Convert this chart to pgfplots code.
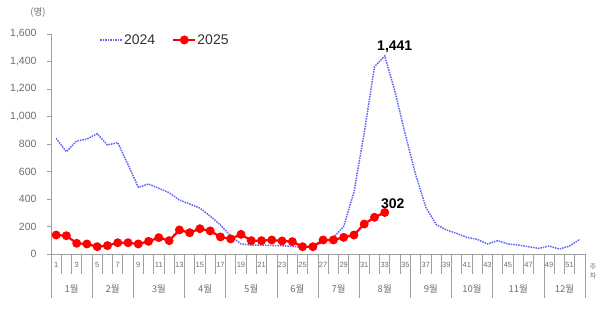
\documentclass[border=0pt]{standalone}
\usepackage{fontspec}
\setmainfont{Liberation Sans}
\newfontfamily\kr{Noto Sans CJK KR}
\usepackage{pgfplots}
\pgfplotsset{compat=1.18}
\definecolor{blue24}{RGB}{95,100,245}
\definecolor{red25}{RGB}{255,0,0}
\definecolor{axgray}{RGB}{160,160,160}
\definecolor{txtgray}{RGB}{110,110,110}
\begin{document}
\begin{tikzpicture}
\path[use as bounding box] (-51pt,-63pt) rectangle (549pt,254pt);
\begin{axis}[
  at={(0pt,0pt)}, anchor=south west,
  scale only axis, width=534pt, height=220pt,
  xmin=0.5, xmax=52.5, ymin=0, ymax=1600,
  axis lines=left, axis line style={-, draw=axgray, line width=0.8pt},
  major tick length=0pt,
  ytick={0,200,...,1600},
  yticklabel style={font=\fontsize{10.5}{12}\selectfont, text=txtgray, xshift=-11pt},
  /pgf/number format/assume math mode=true,
  /pgf/number format/1000 sep={,},
  xtick={1,3,...,51},
  xticklabel style={font=\fontsize{7.5}{9}\selectfont, text=txtgray, yshift=-5pt},
  clip=false,
  legend columns=2,
  legend style={at={(0.085,0.973)}, anchor=west, draw=none, fill=none,
    font=\fontsize{14}{16}\selectfont, text=black!80,
    /tikz/every even column/.append style={column sep=16pt},
    nodes={inner sep=1pt}},
  legend image code/.code={\draw[mark repeat=2, mark phase=2, #1] plot coordinates {(0pt,0pt) (11pt,0pt) (22pt,0pt)};},
]
\addplot[blue24, densely dotted, line width=1.5pt] coordinates {
(1,841) (2,744) (3,822) (4,836) (5,875) (6,793) (7,810) (8,650) (9,485) (10,509)
(11,478) (12,446) (13,393) (14,364) (15,334) (16,276) (17,211) (18,131) (19,73) (20,65)
(21,65) (22,62) (23,60) (24,55) (25,50) (26,55) (27,85) (28,120) (29,200) (30,450)
(31,880) (32,1362) (33,1441) (34,1180) (35,870) (36,580) (37,340) (38,215) (39,175) (40,150)
(41,121) (42,107) (43,73) (44,97) (45,73) (46,65) (47,53) (48,41) (49,58) (50,36)
(51,58) (52,107)
};
\addlegendentry{2024}
\addplot[red25, line width=2.2pt, mark=*, mark size=3.3pt, mark options={fill=red25, draw=red25}] coordinates {
(1,138) (2,133) (3,78) (4,73) (5,53) (6,61) (7,82) (8,82) (9,73) (10,92)
(11,119) (12,97) (13,175) (14,155) (15,184) (16,168) (17,124) (18,110) (19,143) (20,97)
(21,97) (22,102) (23,95) (24,90) (25,53) (26,53) (27,102) (28,102) (29,121) (30,138)
(31,218) (32,267) (33,302)
};
\addlegendentry{2025}
% axis ticks and week / month separators
\pgfplotsinvokeforeach{0,200,...,1600}{
  \draw[axgray, line width=0.8pt] (axis cs:0.5,#1) -- ++(-4pt,0pt);
}
\pgfplotsinvokeforeach{0.5,1.5,...,52.5}{
  \draw[axgray, line width=0.8pt] (axis cs:#1,0) -- ++(0pt,-20pt);
}
\pgfplotsinvokeforeach{0.5,4.5,8.5,13.5,17.5,22.5,26.5,30.5,35.5,39.5,43.5,48.5,52.5}{
  \draw[axgray, line width=0.8pt] (axis cs:#1,0) -- ++(0pt,-44pt);
}
\node[anchor=south, font=\bfseries\fontsize{14}{16}\selectfont, xshift=10pt, yshift=2pt, inner sep=1pt] at (axis cs:33,1441) {1,441};
\node[anchor=south, font=\bfseries\fontsize{14}{16}\selectfont, xshift=8pt, yshift=3pt, inner sep=1pt] at (axis cs:33,302) {302};
\node[font=\kr\fontsize{9.5}{11}\selectfont, text=txtgray] at ([xshift=-13pt, yshift=21pt]rel axis cs:0,1) {(명)};
\node[font=\kr\fontsize{7}{9}\selectfont, text=txtgray, align=center] at ([xshift=8pt, yshift=-18pt]axis cs:52.5,0) {주\\차};
\foreach \m/\lab in {2.5/1월, 6.5/2월, 11/3월, 15.5/4월, 20/5월, 24.5/6월, 28.5/7월, 33/8월, 37.5/9월, 41.5/10월, 46/11월, 50.5/12월} {
  \edef\temp{\noexpand\node[font=\noexpand\kr\noexpand\fontsize{9.5}{11}\noexpand\selectfont, text=txtgray] at ([yshift=-35pt]axis cs:\m,0) {\lab};}
  \temp
}
\end{axis}
\end{tikzpicture}
\end{document}
